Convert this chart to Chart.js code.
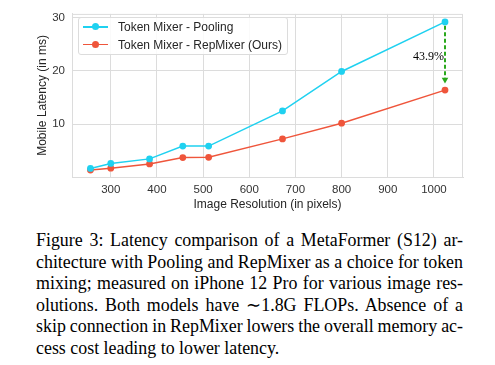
<!DOCTYPE html>
<html>
<head>
<meta charset="utf-8">
<script src="https://cdn.jsdelivr.net/npm/chart.js@4"></script>
<style>
body{margin:0;background:#fff;width:495px;height:365px;overflow:hidden;position:relative}
#wrap{position:absolute;left:0;top:0;width:495px;height:220px}
#legend{position:absolute;left:78px;top:17px;width:208px;height:36px;border:1px solid #dcdcdc;border-radius:3px;background:rgba(255,255,255,.85);font:12px "Liberation Sans",Arial,sans-serif;color:#262626}
.row{position:absolute;left:0;height:18px;line-height:18px;white-space:nowrap;width:100%}
.mk{position:absolute;left:4px;top:8px;width:25px;height:1.6px}
.mk i{position:absolute;left:9px;top:-2.7px;width:7px;height:7px;border-radius:50%}
.lbl{position:absolute;left:39px;top:0}
#cap{position:absolute;left:36px;top:230px;width:427px;font:17.9px "Liberation Serif","Times New Roman",serif;line-height:21.6px;color:#000}
#cap div{text-align:justify;text-align-last:justify;white-space:nowrap;word-spacing:-0.6px}
#cap div.last{text-align-last:left;word-spacing:0}
</style>
</head>
<body>
<div id="wrap"><canvas id="chart"></canvas></div>
<div id="legend"></div>
<div id="cap">
<div>Figure 3: Latency comparison of a MetaFormer (S12) ar-</div>
<div>chitecture with Pooling and RepMixer as a choice for token</div>
<div>mixing; measured on iPhone 12 Pro for various image res-</div>
<div>olutions. Both models have &sim;1.8G FLOPs. Absence of a</div>
<div>skip connection in RepMixer lowers the overall memory ac-</div>
<div class="last">cess cost leading to lower latency.</div>
</div>
<script>
// image resolution (pixels) vs mobile latency (ms)
const resolutions = [256, 300, 384, 456, 512, 672, 800, 1024];
const poolingLatency = [1.7, 2.65, 3.5, 5.9, 5.9, 12.5, 19.9, 29.2];
const repmixerLatency = [1.4, 1.75, 2.55, 3.75, 3.8, 7.25, 10.2, 16.4];
const seriesNames = ['Token Mixer - Pooling', 'Token Mixer - RepMixer (Ours)'];
const seriesColors = ['#1fd1f0', '#ef553b'];
const xTicks = [300, 400, 500, 600, 700, 800, 900, 1000];
const yTicks = [10, 20, 30];
// arrow from pooling to repmixer at the largest resolution
const arrowX = 1024;
const arrowFrom = 28.5;
const arrowTo = 18.35;
const gainText = '43.9%';
const gainY = 22.6;

const grid = '#dcdcdc';
const sans = '"Liberation Sans", Arial, sans-serif';

function pts(ys) {
  return resolutions.map((x, i) => ({x: x, y: ys[i]}));
}

// frame + text label
const extras = {
  id: 'extras',
  beforeDatasetsDraw(chart) {
    const a = chart.chartArea, ctx = chart.ctx;
    ctx.save();
    ctx.strokeStyle = grid;
    ctx.lineWidth = 1;
    ctx.strokeRect(a.left + 0.5, a.top + 0.5, a.right - a.left - 1, a.bottom - a.top);
    ctx.restore();
  },
  afterDatasetsDraw(chart) {
    const ctx = chart.ctx;
    const xs = chart.scales.x, ys = chart.scales.y;
    ctx.save();
    ctx.font = '12px "Liberation Serif", "Times New Roman", serif';
    ctx.fillStyle = '#000';
    ctx.textAlign = 'right';
    ctx.textBaseline = 'middle';
    ctx.fillText(gainText, xs.getPixelForValue(arrowX) - 1, ys.getPixelForValue(gainY));
    ctx.restore();
  }
};

new Chart('chart', {
  type: 'line',
  data: {
    datasets: [
      {
        label: 'arrow',
        data: [{x: arrowX, y: arrowFrom}, {x: arrowX, y: arrowTo}],
        borderColor: '#2aa81c',
        backgroundColor: '#2aa81c',
        borderWidth: 2,
        borderDash: [4, 2.5],
        pointRadius: [0, 3.8],
        pointStyle: 'triangle',
        rotation: 180,
        pointBorderWidth: 0
      },
      {
        label: seriesNames[0],
        data: pts(poolingLatency),
        borderColor: seriesColors[0],
        backgroundColor: seriesColors[0],
        borderWidth: 1.5,
        pointRadius: 3.4,
        pointBorderWidth: 0
      },
      {
        label: seriesNames[1],
        data: pts(repmixerLatency),
        borderColor: seriesColors[1],
        backgroundColor: seriesColors[1],
        borderWidth: 1.5,
        pointRadius: 3.4,
        pointBorderWidth: 0
      }
    ]
  },
  options: {
    responsive: true,
    maintainAspectRatio: false,
    animation: false,
    layout: {padding: {left: 0, right: 32, top: 10, bottom: 0}},
    plugins: {legend: {display: false}, tooltip: {enabled: false}},
    scales: {
      x: {
        type: 'linear',
        min: 216,
        max: 1063,
        afterBuildTicks: s => { s.ticks = xTicks.map(v => ({value: v})); },
        afterFit: s => { s.height = 43; },
        grid: {color: grid, drawTicks: false},
        border: {color: grid},
        ticks: {padding: 6, color: '#333', font: {family: sans, size: 11.5}, callback: v => String(v)},
        title: {display: true, text: 'Image Resolution (in pixels)', color: '#262626',
          font: {family: sans, size: 12}, padding: {top: 0, bottom: 8}}
      },
      y: {
        min: 0.1,
        max: 30.7,
        afterBuildTicks: s => { s.ticks = yTicks.map(v => ({value: v})); },
        afterFit: s => { s.width = 72; },
        grid: {color: grid, drawTicks: false},
        border: {color: grid},
        ticks: {padding: 7, color: '#333', font: {family: sans, size: 11.5}, callback: v => String(v)},
        title: {display: true, text: 'Mobile Latency (in ms)', color: '#262626',
          font: {family: sans, size: 12}, padding: {top: 35, bottom: 0}}
      }
    }
  },
  plugins: [extras]
});

// legend box inside the plot
const legend = document.getElementById('legend');
seriesNames.forEach((name, i) => {
  const row = document.createElement('div');
  row.className = 'row';
  row.style.top = (i * 17.5) + 'px';
  row.innerHTML = '<span class="mk" style="background:' + seriesColors[i] + '"><i style="background:' +
    seriesColors[i] + '"></i></span><span class="lbl">' + name + '</span>';
  legend.appendChild(row);
});
</script>
</body>
</html>
